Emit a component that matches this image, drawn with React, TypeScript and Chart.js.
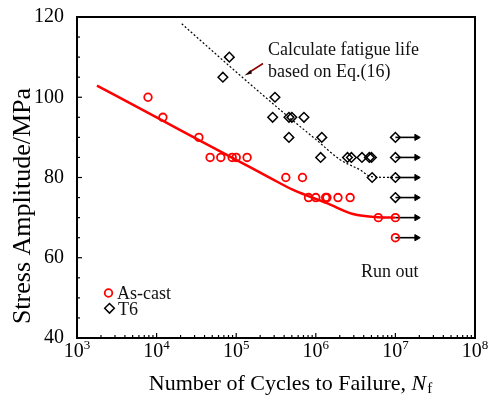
import React, { useEffect, useRef } from "react";
import { Chart, registerables } from "chart.js";

Chart.register(...registerables);

// ---- data ----
const asCastN = [7.8e3, 1.2e4, 3.4e4, 4.7e4, 6.4e4, 8.9e4, 1.0e5, 1.37e5, 4.2e5, 6.8e5, 8.1e5, 1.0e6, 1.33e6, 1.38e6, 1.9e6, 2.7e6, 6.1e6];
const asCastS = [100, 95, 90, 85, 85, 85, 85, 85, 80, 80, 75, 75, 75, 75, 75, 75, 70];
const asCastRunoutS = [70, 65];

const t6N = [6.8e4, 8.2e4, 2.87e5, 3.07e5, 4.6e5, 5.0e5, 7.1e5, 4.6e5, 1.19e6, 1.15e6, 2.5e6, 2.8e6, 3.8e6, 4.7e6, 5.0e6, 5.1e6];
const t6S = [105, 110, 95, 100, 95, 95, 95, 90, 90, 85, 85, 85, 85, 85, 85, 80];
const t6RunoutS = [90, 85, 80, 75];

const runoutN = 1e7;
const arrowEndN = 1.85e7;

const asCastFitN = [1.78e3, 1e4, 3.5e4, 1e5, 2.66e5, 5.2e5, 1.38e6, 2.93e6, 6.0e6, 1e7];
const asCastFitS = [102.9, 95.0, 89.2, 84.4, 79.9, 76.9, 73.6, 70.9, 70.1, 70];

const t6FitN = [2.07e4, 1e5, 4.6e5, 1e6, 2e6, 3.6e6, 5e6, 1e7];
const t6FitS = [118.3, 106.3, 95.0, 89.5, 84.5, 81.9, 80.2, 80];

const xTickExponents = [3, 4, 5, 6, 7, 8];
const yMajorTicks = [40, 60, 80, 100, 120];
const yMinorStep = 5;

const legendLabels = ["As-cast", "T6"];
const annotationLines = ["Calculate fatigue life", "based on Eq.(16)"];
const runoutLabel = "Run out";
const yTitle = "Stress Amplitude/MPa";
const xTitleMain = "Number of Cycles to Failure, ";
const xTitleVar = "N";
const xTitleSub = "f";

const SERIF = '"Liberation Serif", "Times New Roman", serif';
const RED = "#ff0000";

const pts = (xs: number[], ys: number[]) => xs.map((x, i) => ({ x, y: ys[i] }));

const decor = {
  id: "decor",
  afterDraw(chart: any) {
    const { ctx, chartArea: a, scales } = chart;
    const x = scales.x;
    const y = scales.y;
    ctx.save();
    // frame
    ctx.strokeStyle = "#000";
    ctx.lineWidth = 2;
    ctx.strokeRect(a.left, a.top, a.right - a.left, a.bottom - a.top);

    // x ticks (inside)
    ctx.lineWidth = 1.2;
    xTickExponents.forEach((e) => {
      for (let m = 1; m <= 9; m++) {
        if (e === xTickExponents[xTickExponents.length - 1] && m > 1) break;
        const px = x.getPixelForValue(m * Math.pow(10, e));
        const len = m === 1 ? 5 : 3;
        ctx.beginPath();
        ctx.moveTo(px, a.bottom);
        ctx.lineTo(px, a.bottom - len);
        ctx.stroke();
      }
    });
    // y ticks (inside)
    for (let v = yMajorTicks[0]; v <= yMajorTicks[yMajorTicks.length - 1]; v += yMinorStep) {
      const py = y.getPixelForValue(v);
      const len = yMajorTicks.includes(v) ? 5 : 3;
      ctx.beginPath();
      ctx.moveTo(a.left, py);
      ctx.lineTo(a.left + len, py);
      ctx.stroke();
    }

    // x tick labels with superscripts
    ctx.fillStyle = "#000";
    ctx.textBaseline = "alphabetic";
    ctx.textAlign = "left";
    xTickExponents.forEach((e) => {
      const px = x.getPixelForValue(Math.pow(10, e));
      ctx.font = `20px ${SERIF}`;
      const w1 = ctx.measureText("10").width;
      ctx.font = `13px ${SERIF}`;
      const w2 = ctx.measureText(String(e)).width;
      const start = px - (w1 + w2) / 2;
      ctx.font = `20px ${SERIF}`;
      ctx.fillText("10", start, a.bottom + 19);
      ctx.font = `13px ${SERIF}`;
      ctx.fillText(String(e), start + w1, a.bottom + 11);
    });

    // x title
    ctx.font = `22px ${SERIF}`;
    const wm = ctx.measureText(xTitleMain).width;
    ctx.font = `italic 22px ${SERIF}`;
    const wv = ctx.measureText(xTitleVar).width;
    ctx.font = `15px ${SERIF}`;
    const ws = ctx.measureText(xTitleSub).width;
    const tx = (a.left + a.right) / 2 - (wm + wv + ws) / 2 + 14;
    const ty = 390;
    ctx.font = `22px ${SERIF}`;
    ctx.fillText(xTitleMain, tx, ty);
    ctx.font = `italic 22px ${SERIF}`;
    ctx.fillText(xTitleVar, tx + wm, ty);
    ctx.font = `15px ${SERIF}`;
    ctx.fillText(xTitleSub, tx + wm + wv + 1, ty + 3);

    // y title
    ctx.save();
    ctx.translate(30, 206);
    ctx.rotate(-Math.PI / 2);
    ctx.font = `26px ${SERIF}`;
    ctx.textAlign = "center";
    ctx.fillText(yTitle, 0, 0);
    ctx.restore();

    // annotation text
    ctx.font = `18px ${SERIF}`;
    ctx.fillStyle = "#111";
    ctx.textAlign = "left";
    ctx.fillText(annotationLines[0], 268, 55);
    ctx.fillText(annotationLines[1], 268, 77);

    // annotation pointer
    ctx.strokeStyle = "#8b0000";
    ctx.lineWidth = 1.5;
    ctx.beginPath();
    ctx.moveTo(263, 63.5);
    ctx.lineTo(249, 72.5);
    ctx.stroke();
    ctx.fillStyle = "#200";
    ctx.beginPath();
    ctx.moveTo(244.5, 75.5);
    ctx.lineTo(250.5, 70);
    ctx.lineTo(252, 73.5);
    ctx.closePath();
    ctx.fill();

    // run out label
    ctx.fillStyle = "#111";
    ctx.font = `18px ${SERIF}`;
    ctx.fillText(runoutLabel, 361, 277);

    // legend
    ctx.lineWidth = 1.8;
    ctx.strokeStyle = RED;
    ctx.beginPath();
    ctx.arc(108.5, 293, 3.8, 0, Math.PI * 2);
    ctx.stroke();
    ctx.strokeStyle = "#000";
    ctx.lineWidth = 1.5;
    ctx.beginPath();
    ctx.moveTo(109.5, 303.5);
    ctx.lineTo(114.3, 308.3);
    ctx.lineTo(109.5, 313.1);
    ctx.lineTo(104.7, 308.3);
    ctx.closePath();
    ctx.stroke();
    ctx.fillStyle = "#111";
    ctx.font = `18px ${SERIF}`;
    ctx.fillText(legendLabels[0], 117, 299);
    ctx.fillText(legendLabels[1], 118, 315);

    ctx.restore();
  },
};

export default function App() {
  const ref = useRef<HTMLCanvasElement | null>(null);
  useEffect(() => {
    if (!ref.current) return;
    Chart.defaults.font.family = SERIF;
    const arrowSets = [...asCastRunoutS, ...t6RunoutS].map((v) => ({
      type: "line" as const,
      data: [
        { x: runoutN, y: v },
        { x: arrowEndN, y: v },
      ],
      borderColor: "#000",
      borderWidth: 1.6,
      pointStyle: "triangle" as const,
      pointRotation: 90,
      pointRadius: [0, 3.6],
      pointBackgroundColor: "#000",
      pointBorderColor: "#000",
      pointBorderWidth: 1,
    }));

    const chart = new Chart(ref.current, {
      type: "line",
      data: {
        datasets: [
          {
            label: "As-cast",
            data: pts([...asCastN, ...asCastRunoutS.map(() => runoutN)], [...asCastS, ...asCastRunoutS]),
            showLine: false,
            pointStyle: "circle",
            pointRadius: 3.8,
            pointBorderColor: RED,
            pointBackgroundColor: "rgba(0,0,0,0)",
            pointBorderWidth: 1.8,
          },
          {
            label: "T6",
            data: pts([...t6N, ...t6RunoutS.map(() => runoutN)], [...t6S, ...t6RunoutS]),
            showLine: false,
            pointStyle: "rectRot",
            pointRadius: 4.8,
            pointBorderColor: "#000",
            pointBackgroundColor: "rgba(0,0,0,0)",
            pointBorderWidth: 1.5,
          },
          ...arrowSets,
          {
            label: "As-cast fit",
            data: pts(asCastFitN, asCastFitS),
            borderColor: RED,
            borderWidth: 2.5,
            pointRadius: 0,
            cubicInterpolationMode: "monotone",
          },
          {
            label: "T6 fit",
            data: pts(t6FitN, t6FitS),
            borderColor: "#000",
            borderWidth: 1.2,
            borderDash: [2, 2],
            pointRadius: 0,
            cubicInterpolationMode: "monotone",
          },
        ] as any,
      },
      options: {
        responsive: false,
        animation: false,
        events: [],
        layout: { padding: { top: 17, right: 18, left: 0, bottom: 0 } },
        plugins: { legend: { display: false }, tooltip: { enabled: false } },
        scales: {
          x: {
            type: "logarithmic",
            min: 1e3,
            max: 1e8,
            grid: { display: false },
            border: { display: false },
            ticks: { display: false },
            afterFit: (s: any) => {
              s.height = 61;
            },
          },
          y: {
            type: "linear",
            min: 40,
            max: 120,
            grid: { display: false },
            border: { display: false },
            ticks: {
              stepSize: 20,
              color: "#000",
              padding: 5,
              font: { size: 20, family: SERIF },
            },
            afterFit: (s: any) => {
              s.width = 77;
            },
          },
        },
      },
      plugins: [decor],
    });
    return () => chart.destroy();
  }, []);

  return (
    <div style={{ position: "absolute", left: 0, top: 0, width: 493, height: 399, background: "#fff" }}>
      <canvas ref={ref} width={493} height={399} style={{ display: "block" }} />
    </div>
  );
}
